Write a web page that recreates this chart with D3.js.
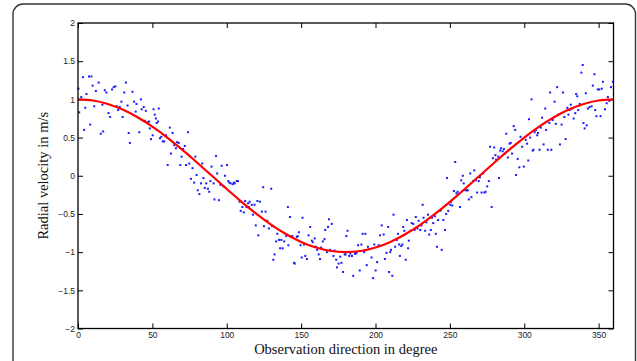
<!DOCTYPE html>
<html><head><meta charset="utf-8">
<script src="https://cdn.jsdelivr.net/npm/d3@7"></script>
<style>html,body{margin:0;padding:0;background:#fff;}svg{display:block;}</style>
</head><body>
<script>
// Measured observations: direction (degree) and radial velocity (m/s)
const obsDeg = [0.3,0.8,2.2,3.3,4.1,4.9,5.7,7.4,8.2,9.0,9.8,10.9,12.0,13.9,15.3,16.4,16.9,18.0,19.1,20.5,21.6,22.9,24.0,25.1,25.9,27.0,28.1,29.2,30.0,31.1,32.2,33.3,34.1,34.9,36.6,37.7,38.8,39.3,41.2,42.3,42.8,44.2,45.0,45.6,46.7,47.8,48.3,49.1,50.2,50.8,51.6,52.4,52.9,53.8,54.3,55.1,56.0,57.0,57.9,59.2,60.3,61.7,62.5,63.6,64.7,65.8,66.6,67.7,68.8,69.6,70.7,71.8,72.6,74.0,74.8,75.9,77.0,78.1,78.9,79.7,80.5,81.6,82.7,83.5,84.3,85.2,86.2,87.3,88.2,89.0,89.8,91.2,91.7,92.8,93.6,94.7,95.8,96.6,98.0,98.8,100.2,101.0,101.8,102.6,104.0,104.8,105.4,106.7,107.5,108.6,109.4,110.5,111.4,112.4,113.3,114.4,114.9,115.4,116.8,117.6,118.7,119.5,120.6,121.2,122.3,123.6,124.5,125.0,126.1,127.2,128.3,129.9,130.5,131.3,132.1,133.2,134.0,135.1,135.9,136.7,137.6,138.6,140.0,141.1,141.4,142.5,143.0,144.1,145.2,145.7,147.1,147.7,148.5,149.6,150.4,150.9,152.0,152.8,153.9,155.0,156.1,157.2,157.8,159.1,159.9,160.8,161.8,162.7,163.5,164.6,165.7,166.2,167.3,168.1,168.7,169.5,170.6,171.7,172.5,173.6,174.1,175.2,176.3,177.1,178.2,179.3,179.9,180.4,181.2,182.3,183.1,184.2,185.0,186.1,186.7,187.2,188.3,189.4,190.5,191.3,192.4,193.2,194.1,194.9,196.0,197.3,198.4,199.2,200.1,201.1,202.2,203.1,204.2,205.5,206.3,207.4,208.5,209.1,209.9,210.4,211.3,212.1,213.2,214.3,215.1,215.9,216.4,217.3,218.1,218.6,219.4,220.3,221.1,221.9,222.4,223.5,224.3,225.4,226.3,227.1,228.2,229.0,230.1,230.9,231.7,232.3,233.4,234.2,235.3,236.1,237.2,238.0,238.8,239.9,240.5,241.3,242.1,243.2,244.0,244.5,245.6,246.7,247.5,248.1,248.9,250.3,250.8,251.6,252.7,253.6,254.4,255.2,256.0,256.8,257.6,258.7,259.3,260.4,261.5,262.0,262.8,263.7,264.5,265.6,266.4,267.5,268.3,269.4,270.2,271.3,272.4,273.2,274.0,275.1,276.2,277.0,278.1,278.9,279.8,280.6,281.1,282.5,283.0,283.8,284.4,285.5,286.3,287.1,287.9,289.0,290.1,290.9,291.8,292.9,293.9,294.5,295.6,296.7,297.5,298.6,299.7,301.0,301.9,302.7,303.2,304.0,304.9,305.7,306.2,307.0,307.9,308.7,309.2,310.3,311.1,312.0,313.0,314.1,314.7,315.8,316.9,317.4,318.2,319.1,320.4,321.2,322.1,322.9,324.0,325.1,326.1,327.0,327.8,328.9,329.7,330.5,331.3,332.4,333.2,334.3,334.9,335.7,336.3,337.3,338.4,339.3,339.8,340.6,341.4,342.0,342.8,343.9,345.3,346.1,347.2,347.7,348.5,349.4,350.4,351.3,352.1,352.9,354.3,355.4,356.2,357.2,358.3,359.6];
const obsVel = [1.14,0.83,1.03,1.29,0.6,0.89,1.07,1.3,0.67,1.3,1.18,0.91,1.11,1.22,0.55,0.93,0.58,1.12,1.09,0.82,0.77,1.13,1.16,1.17,0.91,0.86,0.9,0.97,0.77,1.09,1.22,0.92,0.56,0.43,1.1,0.97,0.84,0.94,0.57,1.0,0.87,0.9,0.72,0.85,0.7,0.71,0.62,0.48,0.53,0.87,0.8,0.75,0.69,0.71,0.88,0.49,0.51,0.45,0.45,0.53,0.14,0.63,0.29,0.56,0.4,0.36,0.44,0.43,0.14,0.25,0.35,0.39,0.14,0.57,0.16,-0.04,0.1,-0.09,0.25,0.01,-0.19,-0.24,-0.1,0.16,-0.03,-0.16,-0.1,-0.17,-0.21,-0.07,0.12,-0.1,-0.31,0.26,0.03,-0.32,-0.12,0.13,-0.14,0.0,0.14,-0.07,-0.09,-0.1,-0.11,-0.09,-0.1,-0.07,-0.07,-0.34,-0.46,-0.41,-0.48,-0.33,-0.41,-0.36,-0.41,-0.34,-0.38,-0.51,-0.38,-0.65,-0.33,-0.78,-0.34,-0.47,-0.15,-0.66,-0.47,-0.59,-0.69,-0.17,-0.66,-1.1,-1.03,-0.86,-0.76,-0.84,-0.95,-0.84,-0.95,-0.86,-0.79,-0.41,-0.91,-0.54,-0.8,-0.79,-1.14,-1.15,-0.8,-0.79,-0.74,-0.91,-1.07,-0.55,-0.9,-1.05,-1.09,-0.78,-0.67,-0.85,-0.87,-0.82,-0.93,-0.97,-1.03,-1.09,-0.94,-0.86,-0.83,-0.71,-1.0,-0.67,-0.57,-0.97,-0.63,-1.05,-0.98,-1.1,-1.2,-1.15,-1.06,-1.14,-1.26,-1.03,-1.03,-0.79,-0.72,-1.05,-1.02,-1.05,-1.31,-1.02,-1.02,-1.01,-0.91,-1.24,-0.9,-0.76,-1.0,-0.76,-1.17,-0.93,-0.96,-1.07,-1.34,-0.9,-1.24,-1.13,-0.91,-0.78,-0.65,-0.77,-1.09,-1.01,-0.67,-1.26,-1.0,-0.97,-1.31,-0.51,-0.93,-0.84,-0.76,-0.9,-1.05,-0.92,-0.9,-0.67,-0.72,-1.1,-0.58,-0.95,-0.85,-0.72,-0.62,-0.63,-0.71,-0.54,-0.69,-0.59,-0.71,-0.65,-0.38,-0.55,-0.72,-0.61,-0.51,-0.77,-0.71,-0.55,-0.62,-0.53,-0.76,-0.93,-0.58,-0.46,-0.45,-0.97,-0.58,-0.71,-0.5,-0.03,-0.46,-0.38,-0.34,-0.39,-0.2,0.18,-0.23,-0.21,-0.24,-0.41,-0.06,0.0,-0.1,-0.19,-0.19,-0.19,-0.31,0.03,-0.28,-0.07,0.07,-0.06,-0.22,-0.07,-0.02,-0.22,0.03,-0.22,-0.21,-0.14,-0.07,0.38,-0.41,0.23,0.37,0.27,0.21,0.25,-0.03,0.33,0.36,0.32,0.35,0.29,0.55,0.24,0.42,0.43,0.29,0.65,0.6,0.01,0.22,0.11,0.51,0.38,0.12,0.47,0.42,0.2,0.74,0.5,1.0,0.33,0.34,0.57,0.6,0.53,0.56,0.34,0.63,0.76,0.41,0.88,0.6,0.34,0.69,1.09,0.34,0.73,0.97,0.68,1.16,0.8,0.41,0.67,1.09,0.77,0.48,0.89,0.8,0.86,0.93,0.88,0.75,0.82,1.07,1.04,0.86,0.94,1.35,1.45,0.69,0.62,1.08,0.66,0.88,0.9,0.91,1.18,1.33,0.86,0.78,1.13,1.13,0.78,1.14,1.23,0.87,0.95,1.03,0.98,1.16,1.23];
// Model curve read every 10 degrees
const modelDeg = [0,10,20,30,40,50,60,70,80,90,100,110,120,130,140,150,160,170,180,190,200,210,220,230,240,250,260,270,280,290,300,310,320,330,340,350,360];
const modelVel = [1,0.985,0.94,0.866,0.766,0.643,0.5,0.342,0.174,0,-0.174,-0.342,-0.5,-0.643,-0.766,-0.866,-0.94,-0.985,-1,-0.985,-0.94,-0.866,-0.766,-0.643,-0.5,-0.342,-0.174,0,0.174,0.342,0.5,0.643,0.766,0.866,0.94,0.985,1];
const xTicks = [0,50,100,150,200,250,300,350];
const yTicks = [-2,-1.5,-1,-0.5,0,0.5,1,1.5,2];
const xTitle = "Observation direction in degree";
const yTitle = "Radial velocity in m/s";

const W = 637, H = 361;
const L = 78, R = 613.5, T = 23, B = 328.5;
const svg = d3.select("body").append("svg").attr("width", W).attr("height", H);

// outer rounded frame
svg.append("rect").attr("x", 13).attr("y", 4).attr("width", 622.5).attr("height", 420)
  .attr("rx", 10).attr("fill", "none").attr("stroke", "#333").attr("stroke-width", 1.4);

const x = d3.scaleLinear().domain([0, 360]).range([L, R]);
const y = d3.scaleLinear().domain([-2, 2]).range([B, T]);

const tickFont = "'Liberation Sans', Arial, sans-serif";
const fmt = d => String(d).replace("-", "\u2212");

const gx = svg.append("g").attr("transform", `translate(0,${B})`)
  .call(d3.axisBottom(x).tickValues(xTicks).tickSize(-5).tickPadding(3).tickFormat(fmt));
const gxTop = svg.append("g").attr("transform", `translate(0,${T})`)
  .call(d3.axisTop(x).tickValues(xTicks).tickSize(-5).tickFormat(""));
const gy = svg.append("g").attr("transform", `translate(${L},0)`)
  .call(d3.axisLeft(y).tickValues(yTicks).tickSize(-5).tickPadding(3).tickFormat(fmt));
const gyR = svg.append("g").attr("transform", `translate(${R},0)`)
  .call(d3.axisRight(y).tickValues(yTicks).tickSize(-5).tickFormat(""));
[gx, gxTop, gy, gyR].forEach(g => {
  g.select(".domain").remove();
  g.selectAll("line").attr("stroke", "#000").attr("stroke-width", 1);
  g.selectAll("text").attr("font-family", tickFont).attr("font-size", 8.5).attr("fill", "#222");
});

// scatter
svg.append("g").selectAll("rect").data(obsDeg.map((d, i) => [d, obsVel[i]])).join("rect")
  .attr("x", d => x(d[0]) - 1).attr("y", d => y(d[1]) - 1)
  .attr("width", 2).attr("height", 2).attr("fill", "#1a1aff");

// model curve
const line = d3.line().x((d, i) => x(modelDeg[i])).y(d => y(d)).curve(d3.curveNatural);
svg.append("path").datum(modelVel).attr("d", line)
  .attr("fill", "none").attr("stroke", "#f00").attr("stroke-width", 2.2);

// plot box
svg.append("rect").attr("x", L).attr("y", T).attr("width", R - L).attr("height", B - T)
  .attr("fill", "none").attr("stroke", "#000").attr("stroke-width", 1.3);

svg.append("text").attr("x", (L + R) / 2).attr("y", 354).attr("text-anchor", "middle")
  .attr("font-family", "'Liberation Serif', 'Times New Roman', serif").attr("font-size", 14.5)
  .attr("fill", "#111").text(xTitle);
svg.append("text").attr("transform", `translate(48,${(T + B) / 2}) rotate(-90)`)
  .attr("text-anchor", "middle")
  .attr("font-family", "'Liberation Serif', 'Times New Roman', serif").attr("font-size", 14.5)
  .attr("fill", "#111").text(yTitle);
</script>
</body></html>
